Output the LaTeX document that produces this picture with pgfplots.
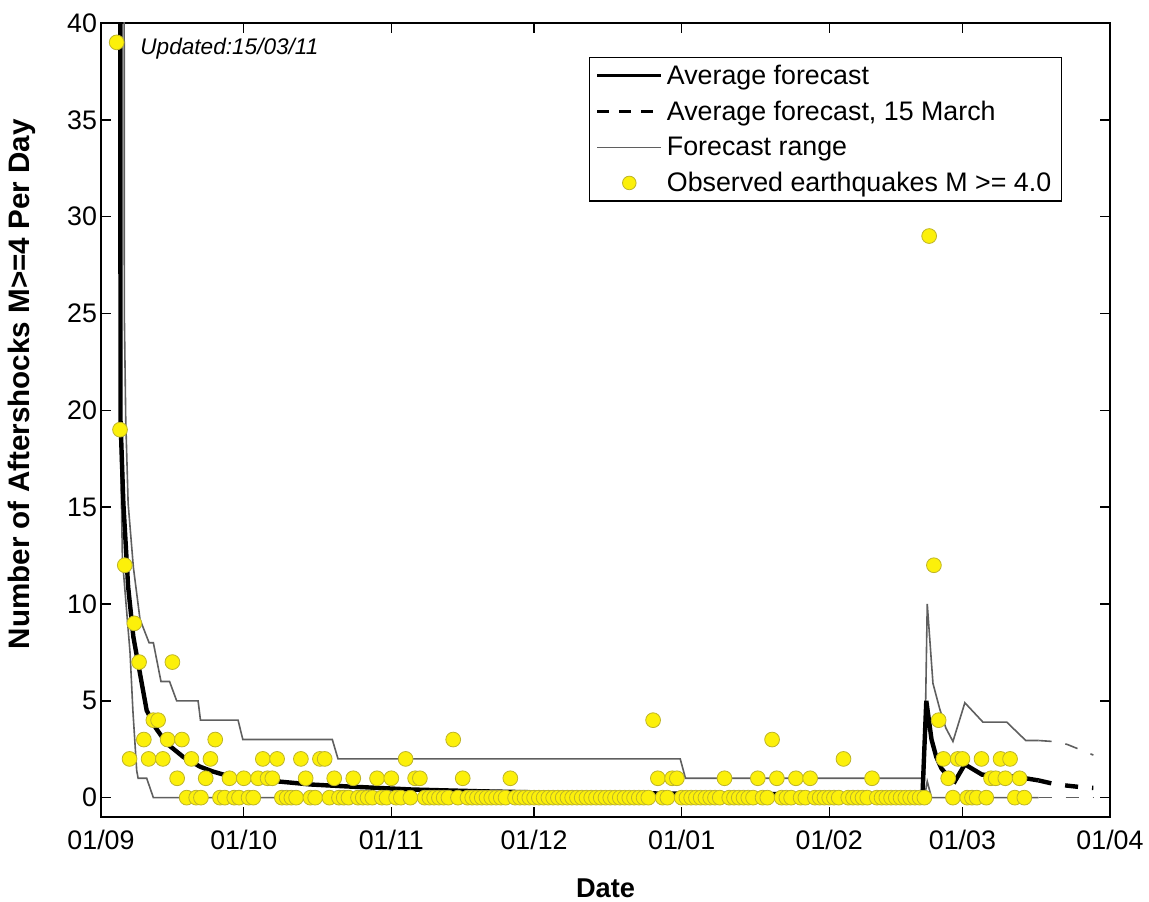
\documentclass[border=0pt]{standalone}
\usepackage{fontspec}
\setmainfont{Liberation Sans}
\usepackage{pgfplots}
\pgfplotsset{compat=1.18}
\definecolor{ptfill}{RGB}{252,240,10}
\definecolor{ptedge}{RGB}{190,180,40}
\definecolor{rangegray}{RGB}{95,95,95}
\begin{document}
\begin{tikzpicture}
\path[use as bounding box] (-50.5pt,-42pt) rectangle (524pt,408.5pt);
\begin{axis}[
  at={(0pt,0pt)}, anchor=south west,
  scale only axis, width=504.5pt, height=397pt,
  xmin=0, xmax=212, ymin=-1, ymax=40,
  xtick={0,30,61,91,122,153,181,212},
  xticklabels={01/09,01/10,01/11,01/12,01/01,01/02,01/03,01/04},
  ytick={0,5,10,15,20,25,30,35,40},
  tick align=inside, major tick length=5pt,
  axis line style={line width=0.9pt},
  every tick/.style={black, line width=0.7pt},
  /pgf/number format/assume math mode=true,
  ticklabel style={font=\fontsize{13.4}{16}\selectfont},
  xticklabel style={yshift=-3pt},
  yticklabel style={xshift=1.5pt},
  xlabel={Date},
  ylabel={Number of Aftershocks M>=4 Per Day},
  xlabel style={font=\fontsize{13.6}{16}\selectfont\bfseries, at={(axis description cs:0.5,-0.0894)}, anchor=center},
  ylabel style={font=\fontsize{14.8}{17}\selectfont\bfseries, at={(axis description cs:-0.0783,0.545)}, anchor=center, rotate=0},
  legend style={at={(rel axis cs:0.9524,0.9572)}, anchor=north east, draw=black, line width=0.7pt, fill=white,
    font=\fontsize{13.4}{15}\selectfont, inner xsep=3pt, inner ysep=1.5pt, row sep=2.8pt, cells={anchor=west}},
  legend image code/.code={\draw[mark repeat=2,mark phase=2,#1] plot coordinates {(0pt,0pt) (16pt,0pt) (32pt,0pt)};},
  clip=true,
]
% observed daily counts
\addplot[only marks, mark=*, mark size=3.7pt, mark options={fill=ptfill, draw=ptedge, line width=0.4pt}, forget plot] coordinates {
(3.3,39) (4,19) (5,12) (6,2) (7,9) (8,7) (9,3) (10,2) (11,4) (12,4) (13,2) (14,3) (15,7) (16,1) (17,3)
(18,0) (19,2) (20,0) (21,0) (22,1) (23,2) (24,3) (25,0) (26,0) (27,1) (28,0) (29,0) (30,1) (31,0) (32,0)
(33,1) (34,2) (35,1) (36,1) (37,2) (38,0) (39,0) (40,0) (41,0) (42,2) (43,1) (44,0) (45,0) (46,2) (47,2)
(48,0) (49,1) (50,0) (51,0) (52,0) (53,1) (54,0) (55,0) (56,0) (57,0) (58,1) (59,0) (60,0) (61,1) (62,0)
(63,0) (64,2) (65,0) (66,1) (67,1) (68,0) (69,0) (70,0) (71,0) (72,0) (73,0) (74,3) (75,0) (76,1) (77,0)
(78,0) (79,0) (80,0) (81,0) (82,0) (83,0) (84,0) (85,0) (86,1) (87,0) (88,0) (89,0) (90,0) (91,0) (92,0)
(93,0) (94,0) (95,0) (96,0) (97,0) (98,0) (99,0) (100,0) (101,0) (102,0) (103,0) (104,0) (105,0) (106,0)
(107,0) (108,0) (109,0) (110,0) (111,0) (112,0) (113,0) (114,0) (115,0) (116,4) (117,1) (118,0) (119,0)
(120,1) (121,1) (122,0) (123,0) (124,0) (125,0) (126,0) (127,0) (128,0) (129,0) (130,0) (131,1) (132,0)
(133,0) (134,0) (135,0) (136,0) (137,0) (138,1) (139,0) (140,0) (141,3) (142,1) (143,0) (144,0) (145,0)
(146,1) (147,0) (148,0) (149,1) (150,0) (151,0) (152,0) (153,0) (154,0) (155,0) (156,2) (157,0) (158,0)
(159,0) (160,0) (161,0) (162,1) (163,0) (164,0) (165,0) (166,0) (167,0) (168,0) (169,0) (170,0) (171,0)
(172,0) (173,0) (174,29) (175,12) (176,4) (177,2) (178,1) (179,0) (180,2) (181,2) (182,0) (183,0) (184,0)
(185,2) (186,0) (187,1) (188,1) (189,2) (190,1) (191,2) (192,0) (193,1) (194,0)
};
% forecast range: upper
\addplot[rangegray, line width=0.8pt, forget plot] coordinates {
(4.4,300) (4.9,25) (5.2,19.5) (5.7,15.2) (6.8,11.9) (8.2,9.2) (10.1,8) (11,8) (12.6,6) (14.4,6) (15.9,5)
(20.4,5) (20.9,4) (28.8,4) (29.8,3) (48.6,3) (49.8,2) (121.7,2) (122.8,1) (173,1) (173.6,10) (174.8,5.9)
(176.2,4.6) (177.5,3.6) (179,2.9) (181.5,4.9) (185.3,3.9) (190.3,3.9) (194.3,2.95) (197,2.95)
};
% forecast range: lower
\addplot[rangegray, line width=0.8pt, forget plot] coordinates {
(3.5,300) (4.0,19.5) (4.5,12.3) (6.1,7.5) (6.7,4.5) (7.5,1.4) (7.8,1) (9.6,1) (11,0) (173,0) (173.6,0.84)
(174.5,0) (197,0)
};
% forecast range, 15 March extension
\addplot[rangegray, line width=0.8pt, dash pattern=on 6.5pt off 7pt, forget plot] coordinates {
(197,2.95) (200,2.9) (203,2.75) (206,2.45) (208.5,2.2)
};
\addplot[rangegray, line width=0.8pt, dash pattern=on 6.5pt off 7pt, forget plot] coordinates {
(197,0) (208.5,0)
};
% average forecast
\addplot[black, line width=2.2pt, forget plot] coordinates {
(3.6,300) (4.1,19.5) (4.7,15.2) (5.7,10.9) (6.8,8.3) (8.2,6.4) (9.6,4.5) (11.5,3.6) (13.8,2.8) (17.3,2.1)
(20.8,1.6) (23.5,1.35) (27.7,1.05) (30.6,0.95) (34.8,0.88) (37.5,0.83) (44,0.68) (51.6,0.58) (65.4,0.42)
(79.5,0.33) (90,0.28) (105,0.24) (120,0.21) (140,0.18) (160,0.16) (172.6,0.15) (173.4,5.0) (174.5,3.0)
(175.5,2.1) (176.6,1.5) (178,1.1) (179.4,0.84) (181.5,1.72) (185.1,1.19) (190,1.12) (193,1.05) (197,0.89)
};
% average forecast, 15 March
\addplot[black, line width=2.2pt, dash pattern=on 6.5pt off 7pt, forget plot] coordinates {
(197,0.89) (200,0.72) (203,0.62) (206,0.54) (208.5,0.5)
};
\addlegendimage{black, line width=1.6pt}
\addlegendentry{Average forecast}
\addlegendimage{black, line width=1.6pt, dash pattern=on 6pt off 5pt}
\addlegendentry{Average forecast, 15 March}
\addlegendimage{rangegray, line width=0.7pt}
\addlegendentry{Forecast range}
\addlegendimage{only marks, mark=*, mark size=3.4pt, mark options={fill=ptfill, draw=ptedge, line width=0.4pt}}
\addlegendentry{Observed earthquakes M >= 4.0}
\node[anchor=west, inner sep=0pt, font=\fontsize{11.3}{13}\selectfont\itshape] at (axis cs:8.2,38.7) {Updated:15/03/11};
\end{axis}
\end{tikzpicture}
\end{document}
